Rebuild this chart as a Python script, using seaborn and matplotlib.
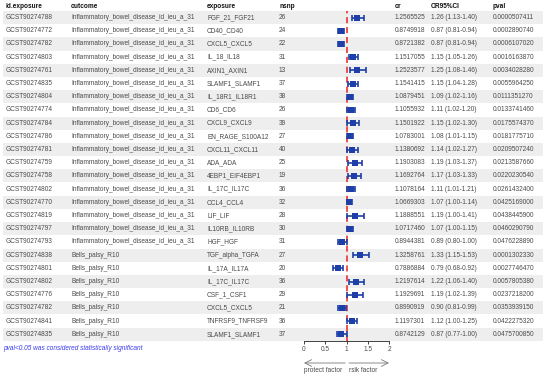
import matplotlib
matplotlib.use("Agg")
import matplotlib.pyplot as plt
import seaborn as sns
import pandas as pd
import numpy as np

sns.set_theme(style="white")
plt.rcParams['font.family'] = ['Liberation Sans', 'DejaVu Sans']

# ---- data ----
ids = ['GCST90274788', 'GCST90274772', 'GCST90274782', 'GCST90274803', 'GCST90274761',
       'GCST90274835', 'GCST90274804', 'GCST90274774', 'GCST90274784', 'GCST90274786',
       'GCST90274781', 'GCST90274759', 'GCST90274758', 'GCST90274802', 'GCST90274770',
       'GCST90274819', 'GCST90274797', 'GCST90274793', 'GCST90274838', 'GCST90274801',
       'GCST90274802', 'GCST90274776', 'GCST90274782', 'GCST90274841', 'GCST90274835']
outcomes = ['Inflammatory_bowel_disease_id_ieu_a_31'] * 18 + ['Bells_palsy_R10'] * 7
exposures = ['FGF_21_FGF21', 'CD40_CD40', 'CXCL5_CXCL5', 'IL_18_IL18', 'AXIN1_AXIN1',
             'SLAMF1_SLAMF1', 'IL_18R1_IL18R1', 'CD6_CD6', 'CXCL9_CXCL9', 'EN_RAGE_S100A12',
             'CXCL11_CXCL11', 'ADA_ADA', '4EBP1_EIF4EBP1', 'IL_17C_IL17C', 'CCL4_CCL4',
             'LIF_LIF', 'IL10RB_IL10RB', 'HGF_HGF', 'TGF_alpha_TGFA', 'IL_17A_IL17A',
             'IL_17C_IL17C', 'CSF_1_CSF1', 'CXCL5_CXCL5', 'TNFRSF9_TNFRSF9', 'SLAMF1_SLAMF1']
nsnp = [26, 24, 22, 31, 13, 37, 38, 26, 39, 27, 40, 25, 19, 36, 32, 28, 30, 31,
        27, 20, 36, 29, 21, 36, 37]
or_vals = [1.2565525, 0.8749918, 0.8721382, 1.1517055, 1.2523577, 1.1541415, 1.0879451,
           1.1055932, 1.1501922, 1.0783001, 1.1380692, 1.1903083, 1.1692764, 1.1078164,
           1.0669303, 1.1888551, 1.0717460, 0.8944381, 1.3258761, 0.7886884, 1.2197614,
           1.1929691, 0.8990919, 1.1197301, 0.8742129]
ci_low = [1.13, 0.81, 0.81, 1.05, 1.08, 1.04, 1.02, 1.02, 1.02, 1.01, 1.02, 1.03, 1.03,
          1.01, 1.00, 1.00, 1.00, 0.80, 1.15, 0.68, 1.06, 1.02, 0.81, 1.00, 0.77]
ci_high = [1.40, 0.94, 0.94, 1.26, 1.46, 1.28, 1.16, 1.20, 1.30, 1.15, 1.27, 1.37, 1.33,
           1.21, 1.14, 1.41, 1.15, 1.00, 1.53, 0.92, 1.40, 1.39, 0.99, 1.25, 1.00]
pvals = [0.0000507411, 0.0002890740, 0.0006107020, 0.0016163870, 0.0034028280,
         0.0055964250, 0.0111351270, 0.0133741460, 0.0175574370, 0.0181775710,
         0.0209507240, 0.0213587660, 0.0220230540, 0.0261432400, 0.0425169000,
         0.0438445900, 0.0460290790, 0.0476228890, 0.0001302330, 0.0027746470,
         0.0057805380, 0.0237218200, 0.0353939150, 0.0422275320, 0.0475700850]
x_ticks = [0, 0.5, 1, 1.5, 2]

df = pd.DataFrame({'id': ids, 'outcome': outcomes, 'exposure': exposures, 'nsnp': nsnp,
                   'or': or_vals, 'lo': ci_low, 'hi': ci_high, 'pval': pvals})
df['row'] = np.arange(len(df))
df['ci_txt'] = [f"{o:.2f} ({l:.2f}-{h:.2f})" for o, l, h in zip(df['or'], df['lo'], df['hi'])]

# ---- layout (pixels) ----
W, H = 546, 378
fig = plt.figure(figsize=(W / 100, H / 100), dpi=100)
bg = fig.add_axes([0, 0, 1, 1])
bg.set_xlim(0, W)
bg.set_ylim(H, 0)
bg.axis('off')

y0, pitch = 17.5, 13.2
fs = 4.7
body = '#4a4a4a'
blue = '#1f3fa8'

col_x = {'id': 6, 'outcome': 71, 'exposure': 207, 'nsnp': 279,
         'or': 395, 'ci': 431, 'pval': 493}
headers = [('id', 'id.exposure'), ('outcome', 'outcome'), ('exposure', 'exposure'),
           ('nsnp', 'nsnp'), ('or', 'or'), ('ci', 'OR95%CI'), ('pval', 'pval')]
for k, t in headers:
    bg.text(col_x[k], 6, t, fontsize=fs, fontweight='bold', color='#111111', va='center')

for i, r in df.iterrows():
    yc = y0 + i * pitch
    if i % 2 == 0:
        bg.add_patch(plt.Rectangle((3, yc - pitch / 2), 540, pitch, color='#eeeeee', lw=0, zorder=0))
    vals = {'id': r['id'], 'outcome': r['outcome'], 'exposure': r['exposure'],
            'nsnp': str(r['nsnp']), 'or': f"{r['or']:.7f}", 'ci': r['ci_txt'],
            'pval': f"{r['pval']:.10f}"}
    for k, v in vals.items():
        bg.text(col_x[k], yc, v, fontsize=fs, color=body, va='center')

bg.text(3, 349, 'pval<0.05 was considered statistically significant', fontsize=fs,
        style='italic', color='#3b3bf0', va='center')

# ---- forest panel ----
top = y0 - pitch / 2
bot = y0 + (len(df) - 1) * pitch + pitch / 2
fx0, fx1 = 304, 389
fax = fig.add_axes([fx0 / W, 1 - bot / H, (fx1 - fx0) / W, (bot - top) / H])
fax.patch.set_alpha(0)
fax.set_xlim(0, 2)
fax.set_ylim(len(df) - 0.5, -0.5)

fax.axvline(1, color='#e8231f', ls=(0, (4, 2.5)), lw=1.1, zorder=1)
fax.errorbar(df['or'], df['row'], xerr=[df['or'] - df['lo'], df['hi'] - df['or']],
             fmt='none', ecolor=blue, elinewidth=1.2, capsize=2, capthick=1.2, zorder=2)
sns.scatterplot(data=df, x='or', y='row', marker='s', color=blue, s=18,
                edgecolor=blue, linewidth=0, ax=fax, zorder=3)

for s in ['top', 'right', 'left']:
    fax.spines[s].set_visible(False)
fax.spines['bottom'].set_linewidth(0.6)
fax.spines['bottom'].set_color('#222222')
fax.set_xticks(x_ticks)
fax.set_xticklabels(['0', '0.5', '1', '1.5', '2'])
fax.set_yticks([])
fax.set_xlabel('')
fax.set_ylabel('')
fax.tick_params(axis='x', bottom=True, length=2.5, width=0.6, color='#222222',
                labelsize=fs, labelcolor=body, pad=1.5)

arrow_y = -(363 - bot) / (bot - top)
text_y = -(371 - bot) / (bot - top)
aprops = dict(arrowstyle='->', color='#777777', lw=0.6, shrinkA=0, shrinkB=0)
fax.annotate('', xy=(0, arrow_y), xytext=(0.97, arrow_y),
             xycoords=('data', 'axes fraction'), textcoords=('data', 'axes fraction'),
             arrowprops=aprops)
fax.annotate('', xy=(2, arrow_y), xytext=(1.06, arrow_y),
             xycoords=('data', 'axes fraction'), textcoords=('data', 'axes fraction'),
             arrowprops=aprops)
fax.text(0, text_y, 'protect factor', transform=fax.get_xaxis_transform(),
         fontsize=fs, color=body, va='center', ha='left')
fax.text(1.06, text_y, 'rsik factor', transform=fax.get_xaxis_transform(),
         fontsize=fs, color=body, va='center', ha='left')

fig.savefig('out.png', dpi=100)
